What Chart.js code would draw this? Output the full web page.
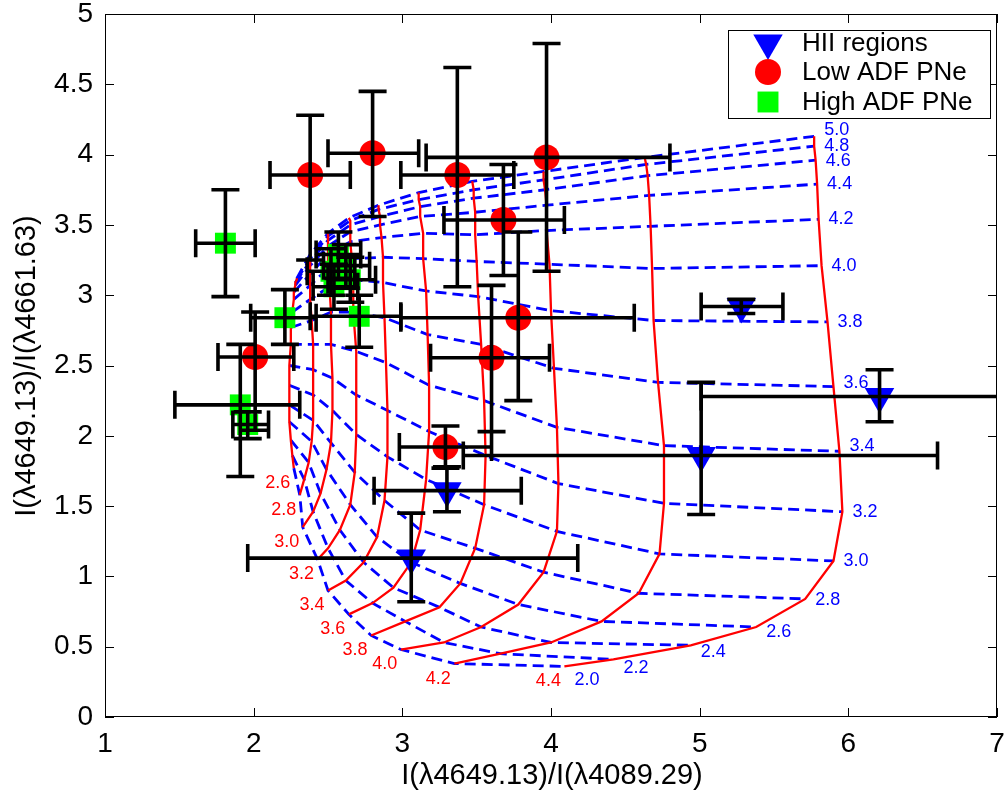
<!DOCTYPE html>
<html>
<head>
<meta charset="utf-8">
<script src="https://cdn.jsdelivr.net/npm/chart.js@4.4.0/dist/chart.umd.min.js"></script>
<style>
  html, body { margin: 0; padding: 0; background: #fff; overflow: hidden; }
  #wrap { width: 1004px; height: 794px; position: relative; }
</style>
</head>
<body>
<div id="wrap"><canvas id="chart"></canvas></div>
<script>
// grid parameters
const redLabels = ['2.6', '2.8', '3.0', '3.2', '3.4', '3.6', '3.8', '4.0', '4.2', '4.4'];
const blueLabels = ['2.0', '2.2', '2.4', '2.6', '2.8', '3.0', '3.2', '3.4', '3.6', '3.8', '4.0', '4.2', '4.4', '4.6', '4.8', '5.0'];

// grid nodes: one row per red curve, one column per blue curve
const gridX = [
  [2.27, 2.26, 2.25, 2.24, 2.24, 2.24, 2.24, 2.25, 2.25, 2.26, 2.27, 2.27, 2.28, 2.28, 2.29, 2.29],
  [2.31, 2.34, 2.37, 2.39, 2.40, 2.40, 2.40, 2.40, 2.39, 2.38, 2.38, 2.38, 2.38, 2.38, 2.38, 2.38],
  [2.33, 2.40, 2.45, 2.49, 2.52, 2.53, 2.53, 2.52, 2.52, 2.51, 2.50, 2.50, 2.50, 2.50, 2.50, 2.50],
  [2.43, 2.50, 2.58, 2.65, 2.68, 2.69, 2.69, 2.69, 2.67, 2.67, 2.66, 2.65, 2.65, 2.65, 2.65, 2.64],
  [2.50, 2.62, 2.74, 2.83, 2.88, 2.90, 2.90, 2.89, 2.88, 2.87, 2.87, 2.86, 2.85, 2.85, 2.84, 2.84],
  [2.64, 2.80, 2.94, 3.06, 3.12, 3.16, 3.18, 3.18, 3.17, 3.16, 3.14, 3.14, 3.12, 3.12, 3.11, 3.11],
  [2.79, 3.02, 3.25, 3.39, 3.49, 3.55, 3.56, 3.55, 3.53, 3.51, 3.50, 3.49, 3.49, 3.48, 3.48, 3.47],
  [2.99, 3.28, 3.53, 3.78, 3.95, 4.04, 4.05, 4.04, 4.02, 4.00, 3.99, 3.97, 3.97, 3.96, 3.95, 3.95],
  [3.35, 3.66, 4.00, 4.34, 4.59, 4.73, 4.76, 4.76, 4.72, 4.69, 4.68, 4.67, 4.66, 4.65, 4.64, 4.63],
  [4.09, 4.42, 4.94, 5.38, 5.71, 5.90, 5.96, 5.94, 5.90, 5.86, 5.82, 5.80, 5.79, 5.78, 5.77, 5.77]
];
const gridY = [
  [1.77, 1.86, 1.97, 2.10, 2.22, 2.36, 2.50, 2.65, 2.77, 2.88, 2.97, 3.02, 3.07, 3.09, 3.11, 3.12],
  [1.58, 1.69, 1.81, 1.96, 2.11, 2.29, 2.47, 2.65, 2.82, 2.97, 3.07, 3.15, 3.21, 3.24, 3.26, 3.29],
  [1.35, 1.46, 1.59, 1.76, 1.95, 2.18, 2.41, 2.65, 2.88, 3.06, 3.19, 3.29, 3.35, 3.39, 3.42, 3.44],
  [1.12, 1.20, 1.33, 1.51, 1.74, 2.01, 2.29, 2.60, 2.88, 3.11, 3.26, 3.38, 3.45, 3.50, 3.53, 3.55],
  [0.90, 0.97, 1.10, 1.28, 1.54, 1.85, 2.18, 2.52, 2.84, 3.09, 3.27, 3.41, 3.50, 3.56, 3.61, 3.64],
  [0.73, 0.81, 0.92, 1.10, 1.33, 1.69, 2.03, 2.36, 2.72, 3.03, 3.26, 3.44, 3.56, 3.63, 3.68, 3.73],
  [0.58, 0.68, 0.78, 0.95, 1.20, 1.51, 1.86, 2.25, 2.65, 2.99, 3.24, 3.43, 3.59, 3.69, 3.75, 3.81],
  [0.48, 0.53, 0.64, 0.80, 1.03, 1.32, 1.66, 2.06, 2.48, 2.89, 3.22, 3.46, 3.64, 3.75, 3.82, 3.88],
  [0.38, 0.45, 0.53, 0.68, 0.88, 1.16, 1.52, 1.93, 2.38, 2.82, 3.19, 3.49, 3.71, 3.85, 3.93, 3.98],
  [0.36, 0.41, 0.51, 0.64, 0.84, 1.11, 1.46, 1.89, 2.35, 2.81, 3.21, 3.54, 3.79, 3.96, 4.06, 4.13]
];

// HII regions
const hiiX = [5.28, 6.21, 5.01, 3.30, 3.06];
const hiiY = [2.92, 2.28, 1.86, 1.61, 1.13];
const hiiXLo = [5.01, 5.01, 3.41, 2.81, 1.96];
const hiiXHi = [5.56, 7.40, 6.60, 3.80, 4.18];
const hiiYLo = [2.87, 2.10, 1.44, 1.46, 0.82];
const hiiYHi = [2.97, 2.47, 2.38, 1.78, 1.45];

// Low ADF PNe
const lowX = [2.38, 2.80, 3.37, 3.97, 3.68, 3.78, 3.60, 3.29, 2.01];
const lowY = [3.855, 4.01, 3.855, 3.98, 3.535, 2.84, 2.555, 1.92, 2.56];
const lowXLo = [2.11, 2.50, 2.99, 3.16, 3.28, 2.99, 3.19, 2.98, 1.76];
const lowXHi = [2.65, 3.11, 3.75, 4.80, 4.09, 4.56, 3.99, 3.60, 2.27];
const lowYLo = [3.25, 3.56, 3.06, 3.17, 3.14, 2.25, 2.03, 1.77, 2.04];
const lowYHi = [4.28, 4.45, 4.62, 4.79, 3.93, 3.45, 3.07, 2.07, 2.88];

// High ADF PNe
const highX = [1.81, 2.21, 2.71, 1.91, 1.96, 2.57, 2.62, 2.52, 2.65, 2.54];
const highY = [3.37, 2.84, 2.85, 2.22, 2.08, 3.29, 3.21, 3.17, 3.11, 3.06];
const highXLo = [1.61, 1.98, 2.38, 1.47, 1.86, 2.42, 2.47, 2.36, 2.50, 2.40];
const highXHi = [2.01, 2.42, 2.99, 2.31, 2.10, 2.72, 2.78, 2.68, 2.82, 2.70];
const highYLo = [2.99, 2.65, 2.63, 1.71, 1.98, 3.12, 3.05, 3.00, 2.95, 2.90];
const highYHi = [3.75, 3.04, 3.00, 2.65, 2.17, 3.45, 3.36, 3.33, 3.27, 3.22];

const xTicks = [1, 2, 3, 4, 5, 6, 7];
const yTicks = [0, 0.5, 1, 1.5, 2, 2.5, 3, 3.5, 4, 4.5, 5];

const FONT = '"Liberation Sans", Arial, Helvetica, sans-serif';
const RED = '#ff0000';
const BLUE = '#0000ff';
const GREEN = '#00ff00';

// label nudges in pixels for the blue curve labels
const blueLabelDy = [14, 9, 7, 5, 1, 0, 0, -5, -4, 0, 0, 0, 0, 1, 0, -6];

const datasets = [];

redLabels.forEach((lab, i) => {
  datasets.push({
    label: 'red ' + lab,
    data: blueLabels.map((b, j) => ({ x: gridX[i][j], y: gridY[i][j] })),
    showLine: true,
    borderColor: RED,
    borderWidth: 2.3,
    pointRadius: 0,
    order: 5
  });
});

blueLabels.forEach((lab, j) => {
  datasets.push({
    label: 'blue ' + lab,
    data: redLabels.map((r, i) => ({ x: gridX[i][j], y: gridY[i][j] })),
    showLine: true,
    borderColor: BLUE,
    borderWidth: 2.8,
    borderDash: [11, 6],
    pointRadius: 0,
    order: 6
  });
});

const hiiStyle = { pointStyle: 'triangle', rotation: 180, radius: 17 };
const lowStyle = { pointStyle: 'circle', rotation: 0, radius: 13 };
const highStyle = { pointStyle: 'rect', rotation: 0, radius: 14.8 };

datasets.push({
  label: 'HII regions',
  data: hiiX.map((x, i) => ({ x: x, y: hiiY[i] })),
  pointStyle: 'triangle', rotation: 180, pointRadius: hiiStyle.radius,
  backgroundColor: BLUE, borderColor: BLUE, borderWidth: 0, order: 1
});
datasets.push({
  label: 'Low ADF PNe',
  data: lowX.map((x, i) => ({ x: x, y: lowY[i] })),
  pointStyle: 'circle', pointRadius: lowStyle.radius,
  backgroundColor: RED, borderColor: RED, borderWidth: 0, order: 1
});
datasets.push({
  label: 'High ADF PNe',
  data: highX.map((x, i) => ({ x: x, y: highY[i] })),
  pointStyle: 'rect', pointRadius: highStyle.radius,
  backgroundColor: GREEN, borderColor: GREEN, borderWidth: 0, order: 1
});

const errorSets = [
  [hiiX, hiiY, hiiXLo, hiiXHi, hiiYLo, hiiYHi],
  [lowX, lowY, lowXLo, lowXHi, lowYLo, lowYHi],
  [highX, highY, highXLo, highXHi, highYLo, highYHi]
];

const figurePlugin = {
  id: 'figure',
  afterDatasetsDraw(chart) {
    const ctx = chart.ctx;
    const a = chart.chartArea;
    const sx = chart.scales.x, sy = chart.scales.y;
    ctx.save();
    ctx.beginPath();
    ctx.rect(a.left, a.top, a.right - a.left, a.bottom - a.top);
    ctx.clip();

    // error bars
    const cap = 14;
    ctx.strokeStyle = '#000';
    ctx.lineWidth = 3.6;
    ctx.lineCap = 'butt';
    errorSets.forEach(([xs, ys, xlo, xhi, ylo, yhi]) => {
      xs.forEach((v, i) => {
        const px = sx.getPixelForValue(v), py = sy.getPixelForValue(ys[i]);
        const l = sx.getPixelForValue(xlo[i]), r = sx.getPixelForValue(xhi[i]);
        const t = sy.getPixelForValue(yhi[i]), b = sy.getPixelForValue(ylo[i]);
        ctx.beginPath();
        ctx.moveTo(l, py); ctx.lineTo(r, py);
        ctx.moveTo(l, py - cap); ctx.lineTo(l, py + cap);
        ctx.moveTo(r, py - cap); ctx.lineTo(r, py + cap);
        ctx.moveTo(px, t); ctx.lineTo(px, b);
        ctx.moveTo(px - cap, t); ctx.lineTo(px + cap, t);
        ctx.moveTo(px - cap, b); ctx.lineTo(px + cap, b);
        ctx.stroke();
      });
    });

    // curve labels
    ctx.font = '18px ' + FONT;
    ctx.textBaseline = 'middle';
    ctx.textAlign = 'center';
    ctx.fillStyle = RED;
    redLabels.forEach((lab, i) => {
      const px = sx.getPixelForValue(gridX[i][0]);
      const py = sy.getPixelForValue(gridY[i][0]);
      ctx.fillText(lab, px - 16, py + 15);
    });
    ctx.textAlign = 'left';
    ctx.fillStyle = BLUE;
    const last = redLabels.length - 1;
    blueLabels.forEach((lab, j) => {
      const px = sx.getPixelForValue(gridX[last][j]);
      const py = sy.getPixelForValue(gridY[last][j]);
      ctx.fillText(lab, px + 10, py + blueLabelDy[j]);
    });
    ctx.restore();
  },
  afterDraw(chart) {
    const ctx = chart.ctx;
    const a = chart.chartArea;
    const sx = chart.scales.x, sy = chart.scales.y;
    ctx.save();
    // box and inward ticks
    ctx.strokeStyle = '#000';
    ctx.lineWidth = 1;
    ctx.strokeRect(a.left + 0.5, a.top + 0.5, a.right - a.left - 1, a.bottom - a.top - 1);
    const tl = 9;
    ctx.beginPath();
    xTicks.forEach(v => {
      const p = Math.round(sx.getPixelForValue(v)) + 0.5;
      ctx.moveTo(p, a.bottom); ctx.lineTo(p, a.bottom - tl);
      ctx.moveTo(p, a.top); ctx.lineTo(p, a.top + tl);
    });
    yTicks.forEach(v => {
      const p = Math.round(sy.getPixelForValue(v)) + 0.5;
      ctx.moveTo(a.left, p); ctx.lineTo(a.left + tl, p);
      ctx.moveTo(a.right, p); ctx.lineTo(a.right - tl, p);
    });
    ctx.stroke();

    // axis titles
    ctx.fillStyle = '#000';
    ctx.font = '29px ' + FONT;
    ctx.textAlign = 'center';
    ctx.textBaseline = 'middle';
    ctx.fillText('I(λ4649.13)/I(λ4089.29)', 552, 776);
    ctx.save();
    ctx.translate(27, 366);
    ctx.rotate(-Math.PI / 2);
    ctx.fillText('I(λ4649.13)/I(λ4661.63)', 0, 0);
    ctx.restore();

    // legend
    const lx = 728, ly = 30, lw = 262, lh = 88;
    ctx.fillStyle = '#fff';
    ctx.fillRect(lx, ly, lw, lh);
    ctx.strokeStyle = '#000';
    ctx.lineWidth = 1;
    ctx.strokeRect(lx + 0.5, ly + 0.5, lw, lh);
    const entries = [
      ['HII regions', BLUE, hiiStyle, 43],
      ['Low ADF PNe', RED, lowStyle, 72],
      ['High ADF PNe', GREEN, highStyle, 102]
    ];
    entries.forEach(([text, color, st, y]) => {
      ctx.fillStyle = color;
      ctx.strokeStyle = color;
      Chart.helpers.drawPoint(ctx, { pointStyle: st.pointStyle, rotation: st.rotation, radius: st.radius, borderWidth: 0 }, 768, y);
      ctx.fillStyle = '#000';
      ctx.font = '26px ' + FONT;
      ctx.textAlign = 'left';
      ctx.textBaseline = 'middle';
      ctx.fillText(text, 802, y + 1);
    });
    ctx.restore();
  }
};

new Chart(document.getElementById('chart'), {
  type: 'scatter',
  data: { datasets: datasets },
  options: {
    animation: false,
    responsive: true,
    maintainAspectRatio: false,
    layout: { autoPadding: false, padding: { left: 0, right: 7, top: 14, bottom: 0 } },
    plugins: { legend: { display: false }, tooltip: { enabled: false } },
    scales: {
      x: {
        type: 'linear', min: 1, max: 7,
        grid: { display: false, drawTicks: false },
        border: { display: false },
        ticks: {
          stepSize: 1, autoSkip: false, maxRotation: 0, padding: 10,
          color: '#000', font: { family: FONT, size: 28 },
          callback: v => String(v)
        },
        afterFit: s => { s.height = 77; s.paddingLeft = 0; s.paddingRight = 0; }
      },
      y: {
        type: 'linear', min: 0, max: 5,
        grid: { display: false, drawTicks: false },
        border: { display: false },
        ticks: {
          stepSize: 0.5, autoSkip: false, padding: 12,
          color: '#000', font: { family: FONT, size: 28 },
          callback: v => String(v)
        },
        afterFit: s => { s.width = 105; s.paddingTop = 0; s.paddingBottom = 0; }
      }
    }
  },
  plugins: [figurePlugin]
});
</script>
</body>
</html>
